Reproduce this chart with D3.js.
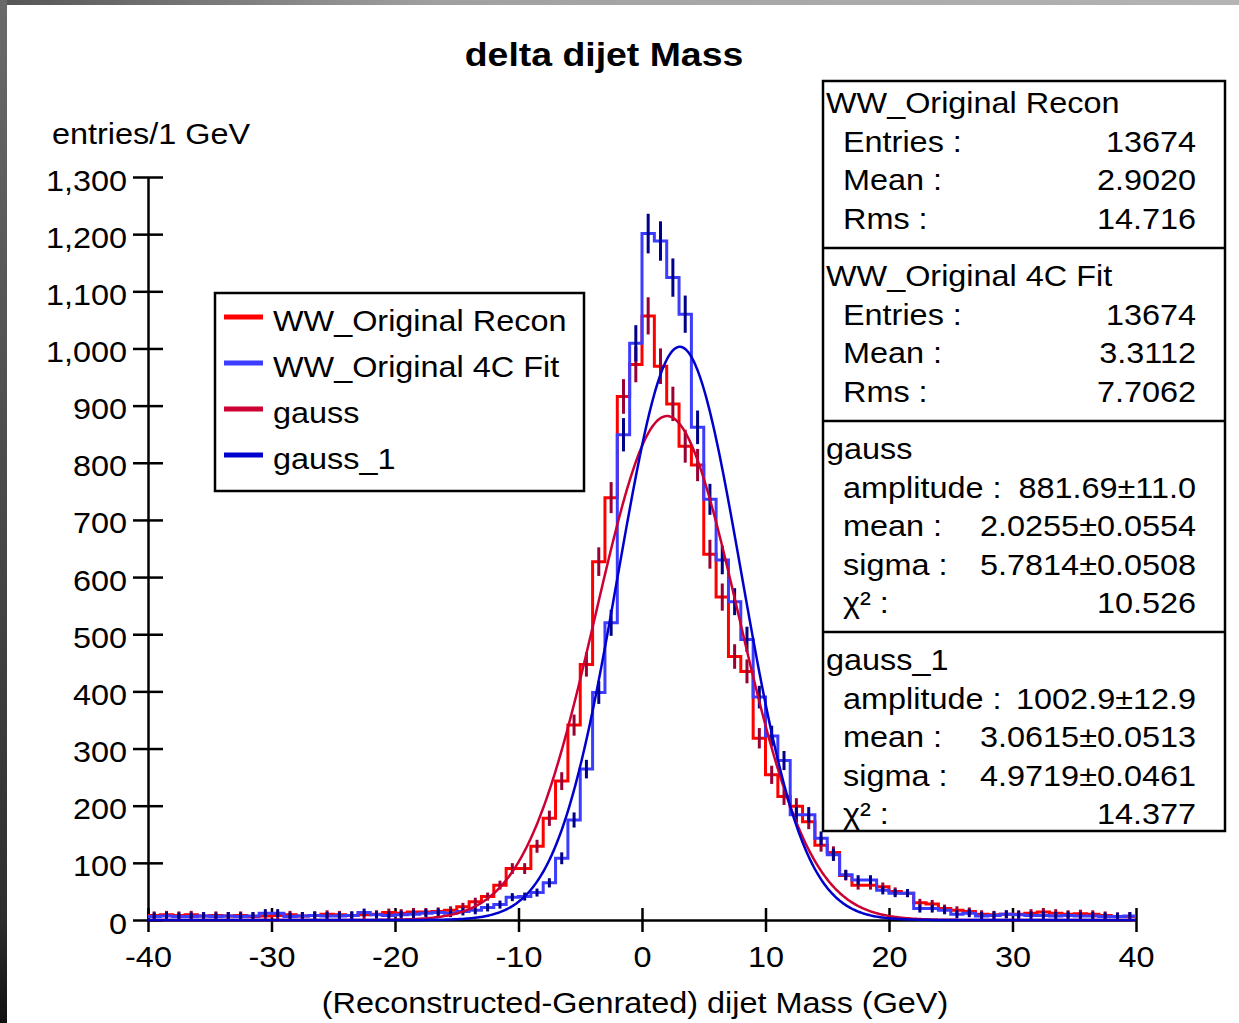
<!DOCTYPE html>
<html>
<head>
<meta charset="utf-8">
<script src="https://cdn.jsdelivr.net/npm/d3@7/dist/d3.min.js"></script>
<style>
  html, body { margin: 0; padding: 0; background: #fff; }
  svg { display: block; font-family: "Liberation Sans", Arial, Helvetica, sans-serif; }
</style>
</head>
<body>
<svg id="chart" width="1239" height="1023"></svg>
<script>
// ---------------- DATA ----------------
const binStart = -40;          // first bin low edge (GeV)
const binWidth = 1;            // GeV
// WW_Original Recon, bins -40 .. 39
const reconCounts = [
  8, 9, 8, 9, 7, 8, 7, 8, 6, 7,
  8, 9, 7, 8, 10, 9, 8, 9, 10, 13,
  12, 14, 14, 15, 17, 23, 32, 41, 61, 90,
  90, 129, 178, 243, 341, 447, 627, 739, 916, 972,
  1057, 969, 903, 829, 796, 640, 565, 461, 435, 318,
  254, 216, 199, 172, 131, 118, 78, 61, 61, 58,
  50, 47, 30, 28, 20, 17, 15, 10, 9, 10,
  10, 12, 14, 12, 10, 11, 10, 8, 6, 6
];
// WW_Original 4C Fit, bins -40 .. 39
const fitCounts = [
  6, 7, 6, 6, 7, 6, 7, 6, 7, 12,
  12, 6, 7, 8, 7, 7, 8, 13, 9, 8,
  9, 10, 12, 13, 12, 15, 17, 22, 27, 40,
  41, 48, 65, 108, 175, 264, 398, 520, 849, 1009,
  1201, 1188, 1124, 1060, 862, 736, 630, 557, 491, 390,
  322, 279, 184, 184, 143, 114, 79, 70, 70, 52,
  47, 47, 20, 20, 17, 10, 12, 7, 8, 10,
  9, 8, 8, 7, 8, 7, 7, 6, 6, 7
];
// gauss fit parameters [amplitude, mean, sigma]
const gaussParams = [881.69, 2.0255, 5.7814];
const gauss1Params = [1002.9, 3.0615, 4.9719];

const xTicks = [-40, -30, -20, -10, 0, 10, 20, 30, 40];
const yTicks = [0, 100, 200, 300, 400, 500, 600, 700, 800, 900, 1000, 1100, 1200, 1300];

const legendLabels = ["WW_Original Recon", "WW_Original 4C Fit", "gauss", "gauss_1"];

const statsBlocks = [
  { title: "WW_Original Recon", rows: [["Entries :", "13674"], ["Mean :", "2.9020"], ["Rms :", "14.716"]] },
  { title: "WW_Original 4C Fit", rows: [["Entries :", "13674"], ["Mean :", "3.3112"], ["Rms :", "7.7062"]] },
  { title: "gauss", rows: [["amplitude :", "881.69±11.0"], ["mean :", "2.0255±0.0554"], ["sigma :", "5.7814±0.0508"], ["χ² :", "10.526"]] },
  { title: "gauss_1", rows: [["amplitude :", "1002.9±12.9"], ["mean :", "3.0615±0.0513"], ["sigma :", "4.9719±0.0461"], ["χ² :", "14.377"]] }
];

// ---------------- STYLE ----------------
const C = {
  recon: "#ff0000", reconErr: "#990033",
  fit: "#3c3cff", fitErr: "#000088",
  gauss: "#cc0033", gauss1: "#0000cc"
};
const SX = 1.08; // horizontal text stretch of the original rendering

const svg = d3.select("#chart");

// window chrome
const defs = svg.append("defs");
const gTop = defs.append("linearGradient").attr("id", "gtop").attr("x1", 0).attr("x2", 1).attr("y1", 0).attr("y2", 0);
gTop.append("stop").attr("offset", 0).attr("stop-color", "#555");
gTop.append("stop").attr("offset", 0.35).attr("stop-color", "#a0a0a0");
gTop.append("stop").attr("offset", 1).attr("stop-color", "#b4b4b4");
const gLeft = defs.append("linearGradient").attr("id", "gleft").attr("x1", 0).attr("x2", 0).attr("y1", 0).attr("y2", 1);
gLeft.append("stop").attr("offset", 0).attr("stop-color", "#6a6a6a");
gLeft.append("stop").attr("offset", 0.9).attr("stop-color", "#2e2e2e");
gLeft.append("stop").attr("offset", 1).attr("stop-color", "#111");
svg.append("rect").attr("x", 0).attr("y", 0).attr("width", 1239).attr("height", 5).attr("fill", "url(#gtop)");
svg.append("rect").attr("x", 0).attr("y", 0).attr("width", 7).attr("height", 1023).attr("fill", "url(#gleft)");

function txt(g, x, y, s, o = {}) {
  return g.append("text")
    .attr("transform", `translate(${x},${y}) scale(${o.sx || SX},1)`)
    .attr("text-anchor", o.anchor || "start")
    .attr("font-size", o.size || 30)
    .attr("font-weight", o.weight || "normal")
    .attr("fill", o.fill || "#000")
    .text(s);
}

// ---------------- SCALES ----------------
const x = d3.scaleLinear().domain([-40, 40]).range([148, 1136]);
const y = d3.scaleLinear().domain([0, 1300]).range([920, 177]);

// title & axis titles
txt(svg, 604, 66, "delta dijet Mass", { size: 34, weight: "bold", anchor: "middle", sx: 1.1 });
txt(svg, 52, 144, "entries/1 GeV", { size: 30 });
txt(svg, 635, 1013, "(Reconstructed-Genrated) dijet Mass (GeV)", { size: 30, anchor: "middle" });

// ---------------- AXES ----------------
const yAxis = d3.axisLeft(y).tickValues(yTicks).tickFormat(d3.format(",")).tickSizeInner(15).tickSizeOuter(0);
const gy = svg.append("g").attr("transform", `translate(${x(-40)},0)`).call(yAxis);
gy.selectAll(".tick").append("line").attr("x2", 15).attr("stroke", "#000");
gy.selectAll("line").attr("stroke-width", 2.5).attr("stroke", "#000");
gy.select(".domain").attr("stroke-width", 2.5).attr("stroke", "#000");
gy.selectAll("text")
  .attr("font-size", 30).attr("fill", "#000").attr("font-family", "Liberation Sans, Arial, sans-serif")
  .attr("x", -21 / SX).attr("dy", null).attr("y", 13)
  .attr("transform", `scale(${SX},1)`);

const xAxis = d3.axisBottom(x).tickValues(xTicks).tickFormat(d => String(d)).tickSizeInner(12).tickSizeOuter(0);
const gx = svg.append("g").attr("transform", `translate(0,${y(0)})`).call(xAxis);
gx.selectAll(".tick").append("line").attr("y2", -12).attr("stroke", "#000");
gx.selectAll("line").attr("stroke-width", 2.5).attr("stroke", "#000");
gx.select(".domain").attr("stroke-width", 2.5).attr("stroke", "#000");
gx.selectAll("text")
  .attr("font-size", 30).attr("fill", "#000").attr("font-family", "Liberation Sans, Arial, sans-serif")
  .attr("dy", null).attr("y", 47).attr("x", 0)
  .attr("transform", `scale(${SX},1)`);

// ---------------- HISTOGRAMS ----------------
function stepPath(counts) {
  const pts = [];
  counts.forEach((c, i) => {
    const lo = binStart + i * binWidth, hi = lo + binWidth;
    pts.push([x(lo), y(c)], [x(hi), y(c)]);
  });
  return d3.line()(pts);
}
const plot = svg.append("g");
plot.append("path").attr("d", stepPath(reconCounts)).attr("fill", "none")
  .attr("stroke", C.recon).attr("stroke-width", 3).attr("stroke-linejoin", "miter");
plot.append("path").attr("d", stepPath(fitCounts)).attr("fill", "none")
  .attr("stroke", C.fit).attr("stroke-width", 3).attr("stroke-linejoin", "miter");

function errBars(counts, color) {
  plot.append("g").selectAll("line").data(counts).join("line")
    .attr("x1", (d, i) => x(binStart + (i + 0.5) * binWidth))
    .attr("x2", (d, i) => x(binStart + (i + 0.5) * binWidth))
    .attr("y1", d => y(d + Math.max(Math.sqrt(d), 7)))
    .attr("y2", d => y(Math.max(0, d - Math.max(Math.sqrt(d), 7))))
    .attr("stroke", color).attr("stroke-width", 3);
}
errBars(reconCounts, C.reconErr);
errBars(fitCounts, C.fitErr);

// ---------------- FIT CURVES ----------------
function gaussCurve([A, mu, s]) {
  const xs = d3.range(-40, 40.001, 0.1);
  return d3.line().x(d => x(d)).y(d => y(A * Math.exp(-0.5 * ((d - mu) / s) ** 2)))(xs);
}
plot.append("path").attr("d", gaussCurve(gaussParams)).attr("fill", "none")
  .attr("stroke", C.gauss).attr("stroke-width", 2.5);
plot.append("path").attr("d", gaussCurve(gauss1Params)).attr("fill", "none")
  .attr("stroke", C.gauss1).attr("stroke-width", 2.5);

// ---------------- LEGEND ----------------
const leg = svg.append("g");
leg.append("rect").attr("x", 215).attr("y", 293).attr("width", 369).attr("height", 198)
  .attr("fill", "#fff").attr("stroke", "#000").attr("stroke-width", 2.5);
const legColors = [C.recon, C.fit, C.gauss, C.gauss1];
legendLabels.forEach((lab, i) => {
  const cy = 317 + i * 46;
  leg.append("line").attr("x1", 224).attr("x2", 263).attr("y1", cy).attr("y2", cy)
    .attr("stroke", legColors[i]).attr("stroke-width", 5);
  txt(leg, 273, cy + 14, lab, { size: 30 });
});

// ---------------- STATS BOX ----------------
const st = svg.append("g");
const boxL = 823, boxR = 1225, boxT = 81, boxB = 831;
st.append("rect").attr("x", boxL).attr("y", boxT).attr("width", boxR - boxL).attr("height", boxB - boxT)
  .attr("fill", "#fff").attr("stroke", "#000").attr("stroke-width", 2.5);
const blockTops = [81, 248, 421, 632];
const titleOffsets = [32, 38, 38, 38];
const rowStep = 38.6;
statsBlocks.forEach((b, bi) => {
  const top = blockTops[bi];
  if (bi > 0) st.append("line").attr("x1", boxL).attr("x2", boxR).attr("y1", top).attr("y2", top)
    .attr("stroke", "#000").attr("stroke-width", 2.5);
  const tb = top + titleOffsets[bi];
  txt(st, 826, tb, b.title, { size: 30 });
  b.rows.forEach((r, ri) => {
    const by = tb + (ri + 1) * rowStep;
    txt(st, 843, by, r[0], { size: 30 });
    txt(st, 1196, by, r[1], { size: 30, anchor: "end" });
  });
});
</script>
</body>
</html>
